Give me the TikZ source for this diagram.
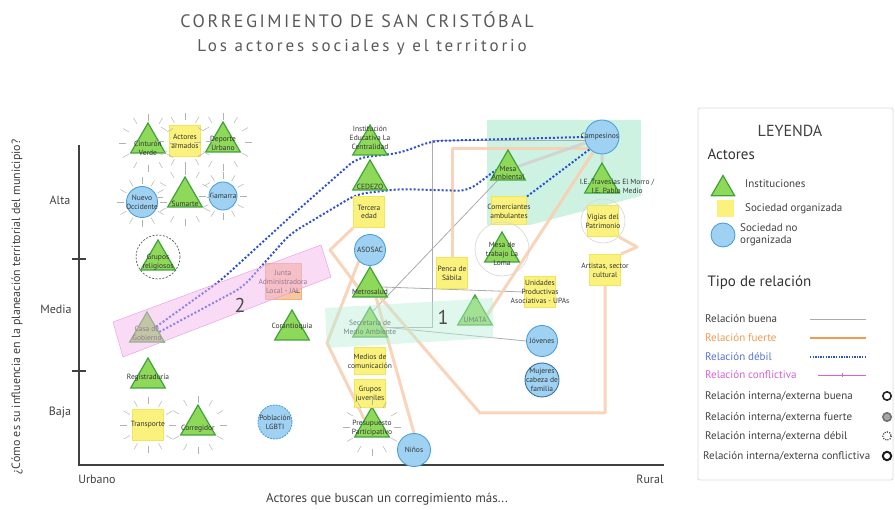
\documentclass[tikz,border=0pt]{standalone}
\usepackage{fontspec}
\setmainfont{PT Sans}
\newfontfamily\titlefont[LetterSpace=14]{PT Sans}
\newfontfamily\subfont[LetterSpace=17]{PT Sans}
\usetikzlibrary{shapes.geometric,backgrounds}

\definecolor{instfill}{HTML}{8ED85A}
\definecolor{instline}{HTML}{3FA33A}
\definecolor{orgfill}{HTML}{FAF27C}
\definecolor{orgline}{HTML}{F1E65A}
\definecolor{nofill}{HTML}{9FD2F2}
\definecolor{noline}{HTML}{4D9FDA}
\definecolor{jalfill}{HTML}{F8C79E}
\definecolor{jalline}{HTML}{F2B07C}
\definecolor{strongc}{HTML}{F8CFB2}
\definecolor{strongleg}{HTML}{F29A4E}
\definecolor{weakc}{HTML}{2C4FD6}
\definecolor{goodc}{HTML}{ABABAB}
\definecolor{conflc}{HTML}{D561D5}
\definecolor{zonepink}{HTML}{F4B8EE}
\definecolor{zonepinkline}{HTML}{E597E2}
\definecolor{zonegreen}{HTML}{B9EDD6}

\tikzset{
  inst/.style={regular polygon, regular polygon sides=3, minimum size=40pt, inner sep=0pt,
    fill=instfill, draw=instline, line width=1.2pt},
  org/.style={rectangle, minimum width=31pt, minimum height=31pt, inner sep=0pt,
    fill=orgfill, draw=orgline, line width=1pt},
  noorg/.style={circle, minimum size=31pt, inner sep=0pt, fill=nofill, draw=noline, line width=0.9pt},
  lbl/.style={font=\fontsize{7.5}{8.8}\selectfont, align=center, text=black!80, inner sep=0pt},
  legtxt/.style={font=\fontsize{11}{12}\selectfont, anchor=west, align=left, text=black!75, inner sep=0pt},
  axtxt/.style={font=\fontsize{12}{13}\selectfont, text=black!75},
  eje/.style={black!75, line width=1.4pt},
  buena/.style={goodc, line width=0.8pt},
  fuerte/.style={strongc, line width=3pt, opacity=0.9, line join=round},
  debil/.style={weakc, line width=2pt, dash pattern=on 2pt off 2pt},
  ray/.style={black!30, line width=0.5pt},
  ringd/.style={black!65, line width=0.7pt, dash pattern=on 2pt off 1.5pt},
  ringl/.style={black!15, line width=0.7pt}
}
\newcommand{\rays}[2]{\foreach \a in {0,30,...,330}{\draw[ray] (#1) ++(\a:#2) -- ++(\a:7);}}

\begin{document}
\begin{tikzpicture}[x=1pt,y=-1pt]
\useasboundingbox (0,0) rectangle (895,510);

% titulo
\node[font=\titlefont\fontsize{18}{20}\selectfont, text=black!65] (titulo) at (357,20) {CORREGIMIENTO DE SAN CRISTÓBAL};
\node[font=\subfont\fontsize{17}{19}\selectfont, text=black!65] (subtitulo) at (362,47) {Los actores sociales y el territorio};

% ejes
\draw[eje] (79,145) -- (79,465) -- (664,465);
\draw[eje] (72,259) -- (86,259) (72,371) -- (86,371);
\node[axtxt] (alta) at (60,200) {Alta};
\node[axtxt] (media) at (56,309) {Media};
\node[axtxt] (baja) at (60,413) {Baja};
\node[axtxt, rotate=90] (ytitulo) at (17,307) {¿Cómo es su influencia en la planeación territorial del municipio?};
\node[axtxt] (urbano) at (97,479) {Urbano};
\node[axtxt] (rural) at (650,479) {Rural};
\node[axtxt, font=\fontsize{13}{14}\selectfont] (xtitulo) at (387,499) {Actores que buscan un corregimiento más...};

% instituciones
\node[inst, label={[lbl,yshift=-5pt]center:Cinturón\\Verde}] (cinturon) at (148,143) {};
\node[inst, label={[lbl,yshift=-1pt]center:Deporte\\Urbano}] (deporte) at (223,142) {};
\node[inst, label={[lbl,yshift=-7pt]center:Sumarte}] (sumarte) at (185,197) {};
\node[inst, label={[lbl,yshift=-2pt]center:Grupos\\religiosos}] (religiosos) at (158,260) {};
\node[inst, label={[lbl,yshift=-1pt]center:Casa de\\Gobierno}] (casagob) at (147,332) {};
\node[inst, label={[lbl]center:Registraduría}] (registra) at (148,378) {};
\node[inst, label={[lbl,yshift=-4pt]center:Corregidor}] (corregidor) at (198,425) {};
\node[inst, label={[lbl,yshift=3pt]center:Corantioquia}] (corantio) at (292,330) {};
\node[inst, label={[lbl,yshift=7pt]center:Institución\\Educativa La\\Centralidad}] (centralidad) at (370,145) {};
\node[inst, label={[lbl,yshift=-7pt]center:CEDEZO}] (cedezo) at (370,180) {};
\node[inst, label={[lbl,yshift=-5pt]center:Metrosalud}] (metrosalud) at (370,287) {};
\node[inst, label={[lbl]center:Secretaría de\\Medio Ambiente}] (medioamb) at (370,327) {};
\node[inst, label={[lbl,yshift=-1pt]center:Presupuesto\\Participativo}] (presupuesto) at (372,427) {};
\node[inst, label={[lbl,yshift=-5pt]center:UMATA}] (umata) at (475,315) {};
\node[inst, label={[lbl,yshift=-3pt]center:Mesa\\Ambiental}] (mesaamb) at (508,170) {};
\node[inst, label={[lbl,yshift=-3pt,xshift=15pt]center:I.E. Travesías El Morro /\\I.E. Pablo Medio}] (ietrav) at (602,183) {};
\node[inst, label={[lbl,yshift=-2pt]center:Mesa de\\trabajo La\\Loma}] (mesaloma) at (502,252) {};

% sociedad organizada
\node[org, label={[lbl]center:Actores\\armados}] (armados) at (185,141) {};
\node[org, label={[lbl]center:Transporte}] (transporte) at (148,425) {};
\node[org, label={[lbl]center:Tercera\\edad}] (tercera) at (369,212) {};
\node[org, label={[lbl]center:Penca de\\Sábila}] (penca) at (452,273) {};
\node[org, minimum height=27pt, label={[lbl]center:Medios de\\comunicación}] (medios) at (370,361) {};
\node[org, minimum height=28pt, label={[lbl]center:Grupos\\juveniles}] (juveniles) at (370,394) {};
\node[org, minimum width=35pt, minimum height=28pt, label={[lbl]center:Comerciantes\\ambulantes}] (comerciantes) at (509,211) {};
\node[org, label={[lbl]center:Vigías del\\Patrimonio}] (vigias) at (603,221) {};
\node[org, label={[lbl]center:{Artistas, sector\\cultural}}] (artistas) at (605,270) {};
\node[org, label={[lbl]center:Unidades\\Productivas\\Asociativas - UPAs}] (upas) at (540,292) {};
\node[org, fill=jalfill, draw=jalline, minimum size=36pt, label={[lbl]center:Junta\\Administradora\\Local - JAL}] (jal) at (283,282) {};

% sociedad no organizada
\node[noorg, label={[lbl]center:Nuevo\\Occidente}] (nuevooc) at (142,202) {};
\node[noorg, minimum size=28pt, label={[lbl]center:Gamarra}] (gamarra) at (223,196) {};
\node[noorg, minimum size=34pt, dash pattern=on 2pt off 1pt, label={[lbl]center:Población\\LGBTI}] (lgbti) at (275,422) {};
\node[noorg, label={[lbl]center:ASOSAC}] (asosac) at (370,250) {};
\node[noorg, minimum size=33pt, label={[lbl]center:Niños}] (ninos) at (414,450) {};
\node[noorg, minimum size=34pt, label={[lbl,xshift=-2pt]center:Campesinos}] (campesinos) at (602,137) {};
\node[noorg, label={[lbl]center:Jóvenes}] (jovenes) at (542,341) {};
\node[noorg, minimum size=34pt, draw=noline!70!black, label={[lbl]center:Mujeres\\cabeza de\\familia}] (mujeres) at (542,380) {};

% relaciones internas/externas
\rays{cinturon}{22}
\rays{deporte}{22}
\rays{armados}{21}
\rays{nuevooc}{18}
\rays{sumarte}{22}
\rays{gamarra}{17}
\rays{transporte}{21}
\rays{corregidor}{22}
\rays{presupuesto}{22}
\draw[ringd] (religiosos) ++(0,-3) circle (22);
\draw[ringl] (mesaloma) ++(0,-3) circle (27);
\draw[ringl] (vigias) circle (22);

\begin{pgfonlayer}{background}
% zona campesina
\fill[zonegreen, fill opacity=0.7] (487,120) -- (641,120) -- (641,196) -- (530,225) -- (487,225) -- cycle;
% buenas
\draw[buena] (campesinos.190) -| (432,327) -- (medioamb.east);
\draw[buena] (metrosalud.east) -- (upas.west);
\draw[buena] (medioamb.east) -- (jovenes.west);
\draw[buena] (mesaamb.south west) -- (medioamb.west);
% fuertes
\draw[fuerte] (penca.north) |- (campesinos.220);
\draw[fuerte] (campesinos.240) -- (umata.east);
\draw[fuerte] (artistas.south) |- (480,413) -- (metrosalud.south east);
\draw[fuerte] (vigias.south east) -- (637,247) -- (artistas.north east);
\draw[fuerte] (tercera.south west) -- (330,250) -- (metrosalud.west);
\draw[fuerte] (metrosalud.-60) -- (ninos.north);
\draw[fuerte] (asosac.south west) -- (327,343) -- (presupuesto.north west);
\draw[fuerte, black!18] (campesinos) -- (mesaamb) (campesinos) -- (ietrav);
% debiles
\draw[debil, rounded corners=10pt] (casagob.30) -- (220,281) -- (290,217) -- (357,158) -- (400,153) -- (432,141) -- (campesinos.west);
\draw[debil, rounded corners=10pt] (casagob.east) -- (243,287) -- (290,234) -- (357,194) -- (400,189) -- (468,191) -- (mesaamb.west);
\draw[debil] (comerciantes.north east) -- (campesinos.south west);
\end{pgfonlayer}

% zonas
\filldraw[fill=zonepink, fill opacity=0.5, draw=zonepinkline] (113,322) -- (123,357) -- (331,277) -- (321,245) -- cycle;
\fill[zonegreen, fill opacity=0.45] (325,308) -- (493,298) -- (493,338) -- (327,348) -- cycle;
\node[font=\fontsize{20}{22}\selectfont, text=black!70] (zona2) at (240,305) {2};
\node[font=\fontsize{20}{22}\selectfont, text=black!70] (zona1) at (443,317) {1};

% leyenda
\draw[black!15, line width=0.8pt, rounded corners=2pt] (698,108) rectangle (893,480);
\node[font=\fontsize{16}{17}\selectfont, text=black!75] (leyenda) at (790,131) {LEYENDA};
\node[font=\fontsize{15}{16}\selectfont, text=black!80, anchor=west] (actores) at (704,154) {Actores};
\node[inst, minimum size=27pt] (linst) at (723,189) {};
\node[legtxt] (tinst) at (745,184) {Instituciones};
\node[org, minimum size=17pt, draw=none] (lorg) at (725,209) {};
\node[legtxt] (torg) at (745,209) {Sociedad organizada};
\node[noorg, minimum size=24pt] (lnoorg) at (723,235) {};
\node[legtxt] (tnoorg) at (740,235) {Sociedad no\\organizada};
\node[font=\fontsize{15}{16}\selectfont, text=black!80, anchor=west] (tipo) at (704,283) {Tipo de relación};
\node[legtxt] (tbuena) at (705,319) {Relación buena};
\node[legtxt, text=strongleg] (tfuerte) at (705,338) {Relación fuerte};
\node[legtxt, text=weakc!80] (tdebil) at (705,357) {Relación débil};
\node[legtxt, text=conflc] (tconfl) at (705,375) {Relación conflictiva};
\coordinate (lb1) at (810,319); \coordinate (lb2) at (866,319);
\coordinate (lf1) at (810,338); \coordinate (lf2) at (866,338);
\coordinate (ld1) at (810,357); \coordinate (ld2) at (866,357);
\coordinate (lc1) at (818,375); \coordinate (lc2) at (866,375);
\draw[buena] (lb1) -- (lb2);
\draw[strongleg, line width=2.2pt] (lf1) -- (lf2);
\draw[weakc, line width=1.4pt, dash pattern=on 1.4pt off 1.2pt] (ld1) -- (ld2);
\draw[conflc, line width=0.5pt] (lc1) -- (lc2);
\draw[conflc, line width=0.5pt] (842,373) -- (842,377);
\node[legtxt] (tib) at (705,396) {Relación interna/externa buena};
\node[legtxt] (tif) at (705,417) {Relación interna/externa fuerte};
\node[legtxt] (tid) at (705,436) {Relación interna/externa débil};
\node[legtxt] (tic) at (703,456) {Relación interna/externa conflictiva};
\draw[black!85, line width=1.6pt] (887,396) circle (4.2);
\draw[black!55, fill=black!35, line width=1.6pt] (887,417) circle (4.2);
\draw[black!70, line width=1.2pt, dash pattern=on 1.2pt off 1.2pt] (887,436) circle (4.2);
\draw[black!90, line width=2pt] (887,456) circle (4.2);
\end{tikzpicture}
\end{document}
